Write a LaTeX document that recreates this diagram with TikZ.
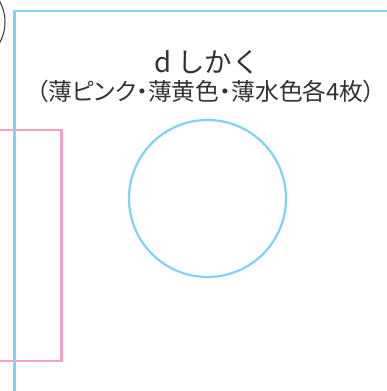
\documentclass[tikz,border=0pt]{standalone}
\usepackage{fontspec}
\newfontfamily\jp{Noto Sans CJK JP}
\newfontfamily\jpp[RawFeature=+palt]{Noto Sans CJK JP}
\definecolor{lblue}{HTML}{80D2F2}
\definecolor{lpink}{HTML}{F39FC6}
\definecolor{txt}{HTML}{333333}
\begin{document}
\begin{tikzpicture}[x=1bp,y=-1bp,
  blueline/.style={draw=lblue,line width=2.2bp},
  pinkline/.style={draw=lpink,line width=2.2bp},
  lbl/.style={text=txt,inner sep=0pt}]
\useasboundingbox (0,0) rectangle (387,391);
\begin{scope}
\clip (0,0) rectangle (387,391);
\draw[draw=black!80,line width=1bp] (-37.5,22) circle[radius=42.5];
\draw[pinkline] (-10,130) rectangle (61.5,361);
\draw[blueline] (14.5,11) rectangle (400,400);
\end{scope}
\node[blueline,circle,minimum size=157bp,inner sep=0pt] (c) at (207.5,198.5) {};
\node[lbl,font=\jp\fontsize{27.5bp}{30bp}\selectfont] (t1) at (207,62) {d しかく};
\node[lbl,font=\jpp\fontsize{23.8bp}{26bp}\selectfont] (t2) at (206,91) {（薄ピンク・薄黄色・薄水色各4枚）};
\end{tikzpicture}
\end{document}
